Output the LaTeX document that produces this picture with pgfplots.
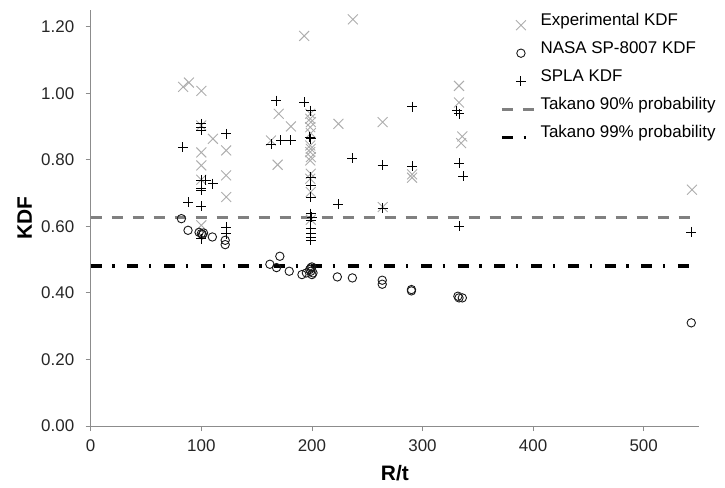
\documentclass[border=0pt]{standalone}
\usepackage{fontspec}
\setmainfont{Liberation Sans}
\usepackage{pgfplots}
\pgfplotsset{compat=1.18}
\begin{document}
\begin{tikzpicture}
\begin{axis}[
  name=ax,
  scale only axis,
  width=608.3bp, height=416bp,
  xmin=0, xmax=550, ymin=0, ymax=1.25,
  xtick={0,100,200,300,400,500},
  ytick={0,0.2,0.4,0.6,0.8,1.0,1.2},
  axis lines=left,
  axis line style={-, black!45, line width=0.8bp},
  tick style={black!45, line width=0.8bp},
  tick align=outside,
  major tick length=5bp,
  /pgf/number format/assume math mode=true,
  ticklabel style={font=\fontsize{17}{20}\selectfont, text=black!85},
  yticklabel style={/pgf/number format/.cd, fixed, fixed zerofill, precision=2, /tikz/.cd, xshift=-8bp},
  xticklabel style={/pgf/number format/.cd, fixed, precision=0, /tikz/.cd, yshift=-5bp},
  xlabel={\fontsize{21}{24}\selectfont\bfseries R/t},
  ylabel={\fontsize{21}{24}\selectfont\bfseries KDF},
  every axis x label/.style={at={(axis description cs:0.5,0)}, anchor=center, yshift=-47bp},
  every axis y label/.style={at={(axis description cs:0,0.5)}, anchor=center, xshift=-66bp, rotate=90},
  clip=false,
  legend image code/.code={\draw[mark repeat=2,mark phase=2,#1] plot coordinates {(0bp,0bp) (19bp,0bp) (33bp,0bp)};},
  legend style={at={(axis description cs:0.673,1)}, anchor=north west, yshift=-1bp, draw=none, fill=none,
    font=\fontsize{17}{20}\selectfont, row sep=0bp, inner sep=0pt,
    nodes={inner ysep=0bp, inner xsep=4bp, text height=14bp, text depth=14bp}},
  legend cell align=left,
]
\addplot[only marks, mark=x, mark size=7bp, black!32, line width=0.9bp] coordinates {
(83.5,1.019) (88.8,1.032) (100,1.007) (100,0.903) (110.5,0.863) (100,0.822)
(122.5,0.828) (100,0.783) (100,0.740) (122.5,0.753) (122.5,0.688) (100,0.603)
(170,0.938) (181,0.900) (163,0.858) (169,0.785)
(193,1.172) (237,1.222) (224,0.908) (264,0.913) (264,0.658)
(290.6,0.756) (290.6,0.746) (333,1.022) (333,0.972) (336,0.870) (335,0.850)
(543.6,0.710)
(198.5,0.938) (198.5,0.923) (199,0.913) (198.5,0.898) (199,0.880) (198.5,0.843)
(199,0.833) (198.5,0.823) (199,0.808) (198.5,0.798) (199,0.758) (198.5,0.743)
(199,0.703) (199,0.620)
};
\addlegendentry{Experimental KDF}
\addplot[only marks, mark=o, mark size=4.2bp, black!90, line width=0.9bp] coordinates {
(82,0.623) (88,0.588) (98,0.582) (100,0.578) (101,0.575) (102,0.580) (110,0.568)
(121.6,0.558) (121.6,0.545) (162,0.486) (168,0.476) (171,0.510) (179.5,0.465)
(191,0.455) (195,0.460) (198,0.470) (199,0.475) (199,0.465) (200,0.455) (200,0.478)
(201,0.460) (223,0.448) (236.6,0.445) (263.6,0.438) (263.6,0.426) (290,0.410)
(290,0.406) (332,0.390) (333,0.385) (336,0.385) (543,0.310)
};
\addlegendentry{NASA SP-8007 KDF}
\addplot[only marks, mark=+, mark size=5bp, black, line width=0.9bp] coordinates {
(83.4,0.838) (88,0.673) (100,0.908) (100,0.898) (100,0.888) (100,0.738) (100,0.713)
(100,0.708) (100,0.660) (100,0.563) (104,0.738) (110.5,0.728) (122.5,0.878)
(122.5,0.598) (122.5,0.578) (167.6,0.978) (163,0.846) (172,0.858) (181,0.858)
(193,0.973) (199,0.948) (198,0.868) (199,0.863) (199,0.748) (199,0.723) (199,0.688)
(199,0.638) (200,0.628) (199,0.618) (199,0.593) (199,0.578) (199,0.568) (199,0.558)
(224,0.666) (236.6,0.805) (264,0.783) (264,0.655) (290.6,0.960) (290.6,0.780)
(331,0.948) (333,0.938) (333,0.790) (333,0.600) (337,0.750) (543,0.583)
};
\addlegendentry{SPLA KDF}
\addplot[black!50, line width=3.3bp, dash pattern=on 11bp off 10bp] coordinates {(0,0.626) (550,0.626)};
\addlegendentry{Takano 90\% probability}
\addplot[black, line width=3.3bp, dash pattern=on 11bp off 10.7bp on 2.3bp off 12.7bp] coordinates {(0,0.481) (550,0.481)};
\addlegendentry{Takano 99\% probability}
\end{axis}
\pgfresetboundingbox
\path ([xshift=-90.7bp,yshift=-61bp]ax.south west) rectangle ([xshift=26bp,yshift=10bp]ax.north east);
\end{tikzpicture}
\end{document}
